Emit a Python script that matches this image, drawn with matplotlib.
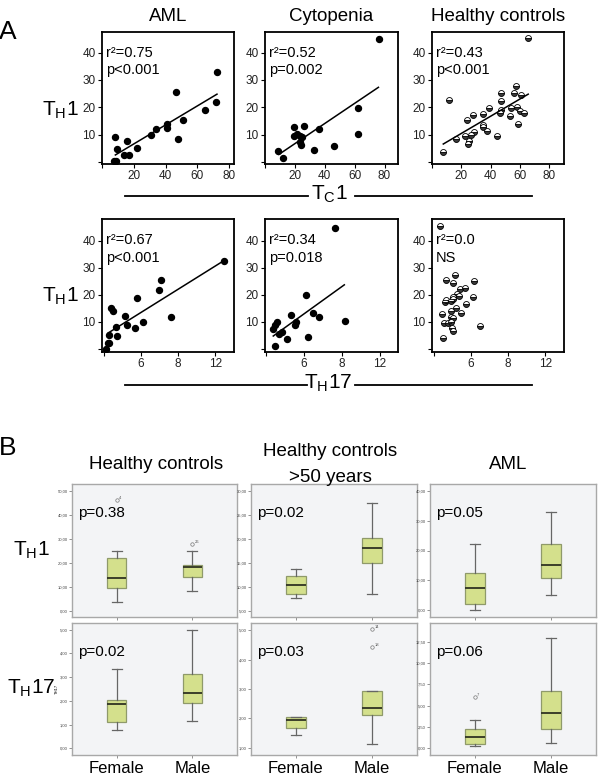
import numpy as np
import matplotlib.pyplot as plt
from matplotlib.lines import Line2D

plt.rcParams['font.family'] = ['Liberation Sans', 'DejaVu Sans']
NARROW = ['Liberation Sans Narrow', 'Liberation Sans', 'DejaVu Sans']

W, H = 600, 782

# ---------------- A: scatter data (TH1 vs TC1 / TH17) ----------------
aml_tc1_x = [8.4, 9.3, 7.8, 9.0, 13.6, 17.1, 15.5, 21.9, 30.6, 34.0, 40.7, 41.1, 46.7, 47.7, 51.0, 64.6, 71.6, 72.5]
aml_tc1_y = [9.3, 4.9, 0.4, 0.4, 2.5, 2.5, 7.8, 5.3, 9.9, 11.9, 14.0, 12.6, 25.6, 8.5, 15.2, 19.0, 22.0, 32.8]
aml_tc1_fit = ([8.4, 72.3], [2.6, 24.8])

cyt_tc1_x = [8.8, 12.3, 19.2, 19.2, 21.7, 23.4, 24.8, 23.4, 23.8, 26.3, 36.3, 33.1, 46.3, 61.9, 62.3, 76.0]
cyt_tc1_y = [4.1, 1.4, 12.7, 9.4, 10.2, 9.6, 9.0, 7.2, 6.3, 13.3, 12.1, 4.4, 5.9, 19.9, 10.2, 45.0]
cyt_tc1_fit = ([9.3, 75.9], [2.8, 27.3])

hc_tc1_x = [7.5, 11.8, 16.3, 22.4, 24.1, 24.7, 25.4, 26.6, 27.7, 28.8, 35.0, 34.6, 34.6, 37.2, 38.9,
            44.1, 46.9, 47.3, 46.5, 46.9, 53.4, 53.8, 56.1, 57.2, 57.9, 58.7, 59.8, 60.8, 62.4, 65.2]
hc_tc1_y = [3.8, 22.6, 8.4, 9.7, 15.2, 6.6, 7.8, 10.0, 17.1, 11.0, 17.4, 13.4, 12.9, 11.5, 19.6,
            9.7, 25.3, 22.4, 18.0, 19.0, 16.7, 19.7, 25.2, 27.6, 20.2, 14.0, 18.7, 24.5, 18.0, 45.2]
hc_tc1_fit = ([7.7, 65.6], [6.6, 24.8])

aml_th17_x = [0.25, 0.4, 0.57, 0.6, 0.8, 1.0, 1.3, 1.4, 2.3, 2.5, 3.3, 3.6, 4.2, 5.9, 6.2, 7.2, 12.9]
aml_th17_y = [0.0, 2.1, 2.1, 5.2, 15.0, 14.2, 8.3, 4.8, 12.3, 8.9, 7.7, 18.8, 9.8, 21.9, 25.6, 11.7, 32.6]
aml_th17_fit = ([0.5, 12.9], [6.0, 32.6])

cyt_th17_x = [0.7, 0.95, 1.2, 1.0, 1.4, 1.65, 2.2, 2.6, 3.05, 3.2, 4.2, 4.4, 5.0, 5.6, 7.3, 8.3]
cyt_th17_y = [7.3, 8.9, 10.1, 1.1, 5.6, 6.2, 3.8, 12.7, 8.9, 9.9, 19.9, 4.4, 13.4, 12.0, 44.7, 10.4]
cyt_th17_fit = ([0.77, 8.25], [4.8, 23.7])

hc_th17_x = [0.7, 1.0, 0.9, 1.1, 1.5, 1.2, 1.3, 1.35, 1.85, 1.8, 1.85, 2.1, 2.0, 2.1, 1.85,
             2.05, 2.1, 2.1, 2.3, 2.4, 2.5, 2.75, 2.9, 2.85, 3.3, 3.5, 4.2, 4.35, 5.0]
hc_th17_y = [45.3, 4.0, 13.0, 9.7, 9.7, 17.2, 18.1, 25.3, 14.1, 11.7, 10.1, 11.4, 7.7, 6.8, 17.9,
             19.1, 18.4, 24.3, 27.5, 15.1, 20.3, 19.4, 13.2, 22.1, 22.5, 16.5, 19.1, 25.2, 8.5]

stats_tc1 = [("r²=0.75", "p<0.001"), ("r²=0.52", "p=0.002"), ("r²=0.43", "p<0.001")]
stats_th17 = [("r²=0.67", "p<0.001"), ("r²=0.34", "p=0.018"), ("r²=0.0", "NS")]
titles_a = ["AML", "Cytopenia", "Healthy controls"]

tc1_ticks = [0, 20, 40, 60, 80]
tc1_ticklabels = ["", "20", "40", "60", "80"]
th17_ticks = [0, 4, 8, 12]
th17_ticklabels = ["", "6", "8", "12"]
y_ticks = [0, 10, 20, 30, 40]
y_ticklabels = ["", "10", "20", "30", "40"]

# ---------------- B: box plot data [whislo, q1, med, q3, whishi] ----------------
hc_th1_f = [3.8, 9.5, 13.9, 22.2, 25.0]
hc_th1_m = [8.3, 14.2, 18.1, 19.3, 25.0]
hc_th1_fliers = ([46.1], [27.8])
hc_th1_flier_ids = (["4"], ["26"])

old_th1_f = [7.8, 8.6, 10.3, 12.3, 13.75]
old_th1_m = [8.5, 15.0, 18.0, 20.1, 27.5]

aml_th1_f = [0.2, 2.2, 7.5, 12.3, 22.1]
aml_th1_m = [5.0, 10.7, 15.0, 22.1, 32.8]

hc_th17_f = [0.77, 1.09, 1.85, 2.03, 3.33]
hc_th17_m = [1.15, 1.89, 2.35, 3.15, 5.0]

old_th17_f = [1.43, 1.66, 1.94, 2.03, 2.03]
old_th17_m = [1.12, 2.10, 2.36, 2.93, 2.93]
old_th17_fliers = ([], [5.03, 4.44])
old_th17_flier_ids = ([], ["14", "18"])

aml_th17_f = [0.31, 0.47, 1.36, 2.3, 3.32]
aml_th17_m = [0.59, 2.23, 4.18, 6.73, 12.99]
aml_th17_fliers = ([6.0], [])
aml_th17_flier_ids = (["7"], [])

p_th1 = ["p=0.38", "p=0.02", "p=0.05"]
p_th17 = ["p=0.02", "p=0.03", "p=0.06"]
groups = ["Female", "Male"]


def px_axes(fig, x0, y0, x1, y1):
    return fig.add_axes([x0 / W, 1 - y1 / H, (x1 - x0) / W, (y1 - y0) / H])


def fig_text(fig, x, y, s, **kw):
    fig.text(x / W, 1 - y / H, s, **kw)


def fig_hline(fig, x0, x1, y):
    fig.add_artist(Line2D([x0 / W, x1 / W], [1 - y / H, 1 - y / H], color='black', lw=1.3))


fig = plt.figure(figsize=(6, 7.82), dpi=100)

# ---------------- panel A ----------------
cols_a = [(102, 234), (265, 398), (432, 564)]
rows_a = [(32, 164), (219, 352)]
row_data = [
    [(aml_tc1_x, aml_tc1_y, aml_tc1_fit), (cyt_tc1_x, cyt_tc1_y, cyt_tc1_fit), (hc_tc1_x, hc_tc1_y, hc_tc1_fit)],
    [(aml_th17_x, aml_th17_y, aml_th17_fit), (cyt_th17_x, cyt_th17_y, cyt_th17_fit), (hc_th17_x, hc_th17_y, None)],
]
xlims = [[(6.6, 83), (6, 89), (5, 90)], [(-0.2, 14), (-0.1, 13.9), (-0.2, 14)]]
ylims = [(-0.7, 47.5), (-1.1, 48)]

for r, (yt, yb) in enumerate(rows_a):
    for c, (xl, xr) in enumerate(cols_a):
        ax = px_axes(fig, xl, yt, xr, yb)
        x, y, fit = row_data[r][c]
        if c == 2:
            ax.plot(x, y, 'o', ms=4.3, fillstyle='bottom', mfc='#3a3a3a', mfcalt='white',
                    mec='black', mew=0.6, ls='none')
        else:
            ax.plot(x, y, 'o', ms=4.3, color='black', ls='none')
        if fit is not None:
            ax.plot(fit[0], fit[1], color='black', lw=1.1)
        ax.set_xlim(*xlims[r][c])
        ax.set_ylim(*ylims[r])
        if r == 0:
            ax.set_xticks(tc1_ticks)
            ax.set_xticklabels(tc1_ticklabels)
        else:
            ax.set_xticks(th17_ticks)
            ax.set_xticklabels(th17_ticklabels)
        ax.set_yticks(y_ticks)
        ax.set_yticklabels(y_ticklabels)
        for lab in ax.get_xticklabels() + ax.get_yticklabels():
            lab.set_family(NARROW)
            lab.set_fontsize(8.5)
            lab.set_color('#222')
        ax.tick_params(direction='out', length=3, width=0.8, pad=1.5)
        for s in ax.spines.values():
            s.set_linewidth(1.3)
        st = stats_tc1[c] if r == 0 else stats_th17[c]
        ax.text(0.03, 0.84, st[0], transform=ax.transAxes, fontsize=10.5, va='center', ha='left')
        ax.text(0.03, 0.71, st[1], transform=ax.transAxes, fontsize=10.5, va='center', ha='left')
        if r == 0:
            ax.set_title(titles_a[c], fontsize=13.5, pad=8)

fig_text(fig, 8, 32, "A", fontsize=19, ha='center', va='center')
fig_text(fig, 60, 110, r"T$_{\mathregular{H}}$1", fontsize=15, ha='center', va='center')
fig_text(fig, 60, 296, r"T$_{\mathregular{H}}$1", fontsize=15, ha='center', va='center')

fig_hline(fig, 125, 308, 196)
fig_hline(fig, 355, 532, 196)
fig_text(fig, 329, 194, r"T$_{\mathregular{C}}$1", fontsize=15, ha='center', va='center')
fig_hline(fig, 125, 307, 385)
fig_hline(fig, 355, 532, 385)
fig_text(fig, 328, 383, r"T$_{\mathregular{H}}$17", fontsize=15, ha='center', va='center')

# ---------------- panel B ----------------
cols_b = [(72, 237), (251, 417), (430, 596)]
rows_b = [(484, 617), (623, 755)]

box_rows = [
    [(hc_th1_f, hc_th1_m, hc_th1_fliers, hc_th1_flier_ids),
     (old_th1_f, old_th1_m, ([], []), ([], [])),
     (aml_th1_f, aml_th1_m, ([], []), ([], []))],
    [(hc_th17_f, hc_th17_m, ([], []), ([], [])),
     (old_th17_f, old_th17_m, old_th17_fliers, old_th17_flier_ids),
     (aml_th17_f, aml_th17_m, aml_th17_fliers, aml_th17_flier_ids)],
]
box_ticks = [
    [np.arange(0, 51, 10), np.arange(5, 31, 5), np.arange(0, 41, 10)],
    [np.arange(0, 6, 1), np.arange(1, 6, 1), np.arange(0, 12.6, 2.5)],
]
box_ylims = [
    [(-2.5, 52.8), (3.75, 31.4), (-2.3, 42.3)],
    [(-0.28, 5.28), (0.75, 5.25), (-0.79, 14.73)],
]
p_rows = [p_th1, p_th17]

for r, (yt, yb) in enumerate(rows_b):
    for c, (xl, xr) in enumerate(cols_b):
        ax = px_axes(fig, xl, yt, xr, yb)
        ax.set_facecolor('#f3f4f6')
        f, m, fl, ids = box_rows[r][c]
        bstats = []
        for vals, flv in zip((f, m), fl):
            bstats.append(dict(whislo=vals[0], q1=vals[1], med=vals[2], q3=vals[3],
                               whishi=vals[4], fliers=flv))
        ax.bxp(bstats, positions=[1, 2], widths=0.26, patch_artist=True, showfliers=True,
               boxprops=dict(facecolor='#d4e08c', edgecolor='#8f9a6a', lw=0.9),
               medianprops=dict(color='#2f3322', lw=1.3),
               whiskerprops=dict(color='#666666', lw=0.9),
               capprops=dict(color='#666666', lw=0.9),
               flierprops=dict(marker='o', ms=2.5, mfc='none', mec='#777777', mew=0.5))
        for pos, flv, idv in zip((1, 2), fl, ids):
            for v, t in zip(flv, idv):
                ax.text(pos + 0.03, v, t, fontsize=3, color='#555', va='bottom', ha='left')
        ax.set_xlim(0.41, 2.59)
        ax.set_ylim(*box_ylims[r][c])
        tk = box_ticks[r][c]
        ax.set_yticks(tk)
        ax.set_yticklabels([("%.2f" % t).replace('.', ',') for t in tk], fontsize=3, color='#444')
        ax.set_xticks([1, 2])
        if r == 1:
            ax.set_xticklabels(groups, fontsize=12)
            ax.tick_params(axis='x', pad=2)
        else:
            ax.set_xticklabels(["", ""])
        ax.tick_params(axis='y', length=2, width=0.5, pad=1, colors='#666', labelcolor='#444')
        ax.tick_params(axis='x', length=2, width=0.5, colors='#666', labelcolor='black')
        for s in ax.spines.values():
            s.set_color('#a8a8a8')
            s.set_linewidth(1.0)
        ax.text(0.035, 0.78, p_rows[r][c], transform=ax.transAxes, fontsize=11, va='center', ha='left')
        if r == 1 and c == 0:
            ax.set_ylabel("TH17", fontsize=3, labelpad=1)

fig_text(fig, 8, 448, "B", fontsize=19, ha='center', va='center')
fig_text(fig, 156, 465, "Healthy controls", fontsize=13.5, ha='center', va='center')
fig_text(fig, 330, 452, "Healthy controls", fontsize=13.5, ha='center', va='center')
fig_text(fig, 330, 477, ">50 years", fontsize=13.5, ha='center', va='center')
fig_text(fig, 508, 465, "AML", fontsize=13.5, ha='center', va='center')
fig_text(fig, 31, 550, r"T$_{\mathregular{H}}$1", fontsize=15, ha='center', va='center')
fig_text(fig, 31, 688, r"T$_{\mathregular{H}}$17", fontsize=15, ha='center', va='center')

fig.savefig("out.png", dpi=100)
